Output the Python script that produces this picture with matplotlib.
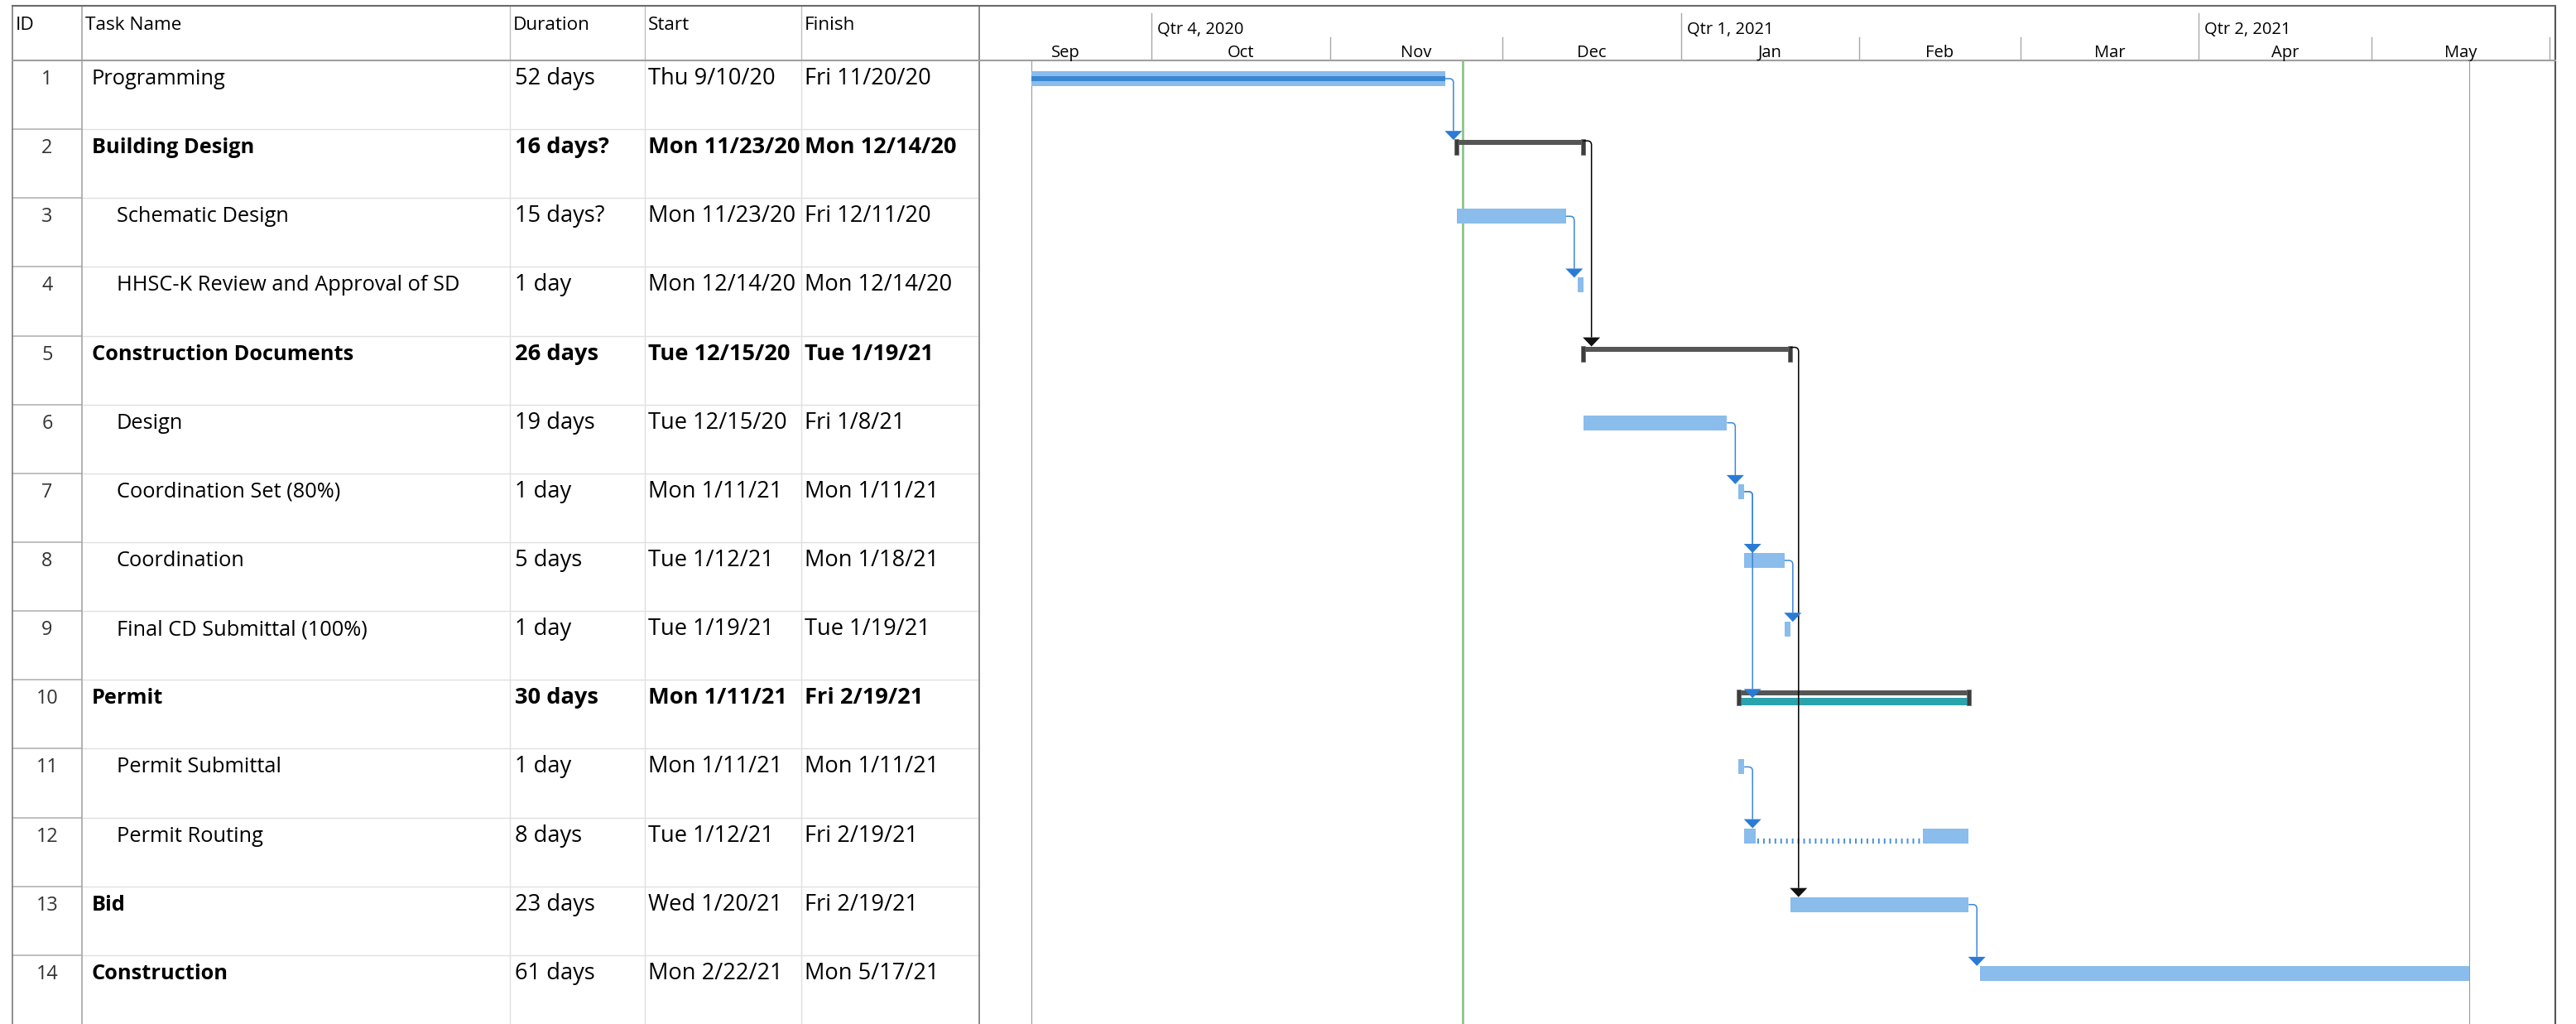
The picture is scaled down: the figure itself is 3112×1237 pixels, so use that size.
import matplotlib
matplotlib.use('Agg')
import matplotlib.pyplot as plt
import matplotlib.dates as mdates
from matplotlib.patches import Rectangle, Polygon, PathPatch
from matplotlib.path import Path
from datetime import datetime

plt.rcParams['font.family'] = ['Open Sans', 'DejaVu Sans']
plt.rcParams['lines.scale_dashes'] = False

# task table
ids = list(range(1, 15))
names = ['Programming', 'Building Design', 'Schematic Design', 'HHSC-K Review and Approval of SD',
         'Construction Documents', 'Design', 'Coordination Set (80%)', 'Coordination',
         'Final CD Submittal (100%)', 'Permit', 'Permit Submittal', 'Permit Routing', 'Bid',
         'Construction']
durations = ['52 days', '16 days?', '15 days?', '1 day', '26 days', '19 days', '1 day', '5 days',
             '1 day', '30 days', '1 day', '8 days', '23 days', '61 days']
starts = ['Thu 9/10/20', 'Mon 11/23/20', 'Mon 11/23/20', 'Mon 12/14/20', 'Tue 12/15/20',
          'Tue 12/15/20', 'Mon 1/11/21', 'Tue 1/12/21', 'Tue 1/19/21', 'Mon 1/11/21',
          'Mon 1/11/21', 'Tue 1/12/21', 'Wed 1/20/21', 'Mon 2/22/21']
finishes = ['Fri 11/20/20', 'Mon 12/14/20', 'Fri 12/11/20', 'Mon 12/14/20', 'Tue 1/19/21',
            'Fri 1/8/21', 'Mon 1/11/21', 'Mon 1/18/21', 'Tue 1/19/21', 'Fri 2/19/21',
            'Mon 1/11/21', 'Fri 2/19/21', 'Fri 2/19/21', 'Mon 5/17/21']
indent = [0, 0, 1, 1, 0, 1, 1, 1, 1, 0, 1, 1, 0, 0]
kinds = ['task', 'summary', 'task', 'task', 'summary', 'task', 'task', 'task', 'task',
         'manual', 'task', 'task', 'task', 'task']
bold_name = [False, True, False, False, True, False, False, False, False, True, False, False,
             True, True]
pct_complete = [100, 0, 0, 0, 0, 0, 0, 0, 0, 0, 0, 0, 0, 0]
# Permit Routing is split into two pieces
splits = {12: [('1/12/21', '1/13/21'), ('2/12/21', '2/19/21')]}
links = [(1, 2), (3, 4), (2, 5), (6, 7), (7, 8), (7, 10), (8, 9), (5, 13), (11, 12), (13, 14)]
status_date = '11/24/20'
view_start, view_end = '9/1/20', '6/2/21'

# layout in pixels
W, H, DPI = 3112, 1237, 100
TOP, HDR = 7, 73
TBL_L, TBL_R, GANTT_R = 15, 1183, 3087
COL_X = [15, 99, 616, 779, 968]
ROW_PX = (H - HDR) / len(ids)

LIGHT_BLUE = '#8abcec'
DARK_BLUE = '#3b86d1'
ARROW_BLUE = '#2b7bd6'


def day(s):
    return mdates.date2num(datetime.strptime(s.split()[-1], '%m/%d/%y'))


bar_start = [day(s) for s in starts]
bar_end = [day(f) + 1 for f in finishes]
x0, x1 = day(view_start), day(view_end)
DAY_PX = (GANTT_R - TBL_R) / (x1 - x0)


def dx(p):
    return p / DAY_PX


def dy(p):
    return p / ROW_PX


fig = plt.figure(figsize=(W / DPI, H / DPI), dpi=DPI)

# ---- table ----
ax_t = fig.add_axes([0, 0, 1, 1])
ax_t.set_xlim(0, W)
ax_t.set_ylim(H, 0)
ax_t.axis('off')

FS = 18.3      # task names
DFS = 19.6     # durations and dates
HFS = 16.2     # column headers
TFS = 14.5     # timescale
for x, lab in zip(COL_X, ['ID', 'Task Name', 'Duration', 'Start', 'Finish']):
    ax_t.text(x + 4, 36, lab, fontsize=HFS, va='baseline', ha='left')

for i in range(len(ids)):
    top = HDR + i * ROW_PX
    base = top + 29
    w = 'bold' if kinds[i] != 'task' else 'normal'
    ax_t.text((COL_X[0] + COL_X[1]) / 2, base, str(ids[i]), fontsize=FS - 1.5, ha='center',
              va='baseline', color='#333333')
    ax_t.text(COL_X[1] + 12 + indent[i] * 30, base, names[i], fontsize=FS, va='baseline',
              fontweight='bold' if bold_name[i] else 'normal')
    ax_t.text(COL_X[2] + 6, base, durations[i], fontsize=DFS, va='baseline', fontweight=w)
    ax_t.text(COL_X[3] + 4, base, starts[i], fontsize=DFS, va='baseline', fontweight=w)
    ax_t.text(COL_X[4] + 4, base, finishes[i], fontsize=DFS, va='baseline', fontweight=w)
    if i > 0:
        ax_t.plot([COL_X[0], COL_X[1]], [top, top], color='#b4b4b4', lw=1.2)
        ax_t.plot([COL_X[1], TBL_R], [top, top], color='#e0e0e0', lw=1.0)

for x in COL_X[2:]:
    ax_t.plot([x, x], [TOP, HDR], color='#bdbdbd', lw=1.0)
    ax_t.plot([x, x], [HDR, H], color='#e0e0e0', lw=1.0)
ax_t.plot([COL_X[1], COL_X[1]], [TOP, H], color='#a6a6a6', lw=1.2)
ax_t.plot([TBL_L, TBL_L], [TOP, H], color='#7a7a7a', lw=1.2)
ax_t.plot([TBL_R, TBL_R], [TOP, H], color='#8a8a8a', lw=1.4)
ax_t.plot([GANTT_R, GANTT_R], [TOP, H], color='#555555', lw=1.5)
ax_t.plot([TBL_L, GANTT_R], [TOP, TOP], color='#6a6a6a', lw=1.5)
ax_t.plot([TBL_L, GANTT_R], [HDR, HDR], color='#a0a0a0', lw=1.5)

# ---- timescale ----
ax_h = fig.add_axes([TBL_R / W, (H - HDR) / H, (GANTT_R - TBL_R) / W, (HDR - TOP) / H])
ax_h.set_xlim(x0, x1)
ax_h.set_ylim(HDR, TOP)
ax_h.axis('off')
ax_h.patch.set_alpha(0)

months = ['9/1/20', '10/1/20', '11/1/20', '12/1/20', '1/1/21', '2/1/21', '3/1/21', '4/1/21',
          '5/1/21', '6/1/21']
for a, b in zip(months[:-1], months[1:]):
    ma, mb = day(a), day(b)
    d = mdates.num2date(ma)
    ax_h.text((ma + mb) / 2, 69, d.strftime('%b'), fontsize=TFS, ha='center', va='baseline')
    if ma > x0:
        if d.month in (1, 4, 7, 10):
            ax_h.plot([ma, ma], [16, HDR], color='#a8a8a8', lw=1.0)
            ax_h.text(ma + dx(7), 41, 'Qtr %d, %d' % ((d.month - 1) // 3 + 1, d.year),
                      fontsize=TFS, ha='left', va='baseline')
        else:
            ax_h.plot([ma, ma], [45, HDR], color='#a8a8a8', lw=1.0)
ax_h.plot([day(months[-1])] * 2, [45, HDR], color='#a8a8a8', lw=1.0)

# ---- gantt ----
ax = fig.add_axes([TBL_R / W, 0, (GANTT_R - TBL_R) / W, (H - HDR) / H])
ax.set_xlim(x0, x1)
ax.set_ylim(len(ids), 0)
ax.axis('off')
ax.patch.set_alpha(0)

ax.axvline(min(bar_start), color='#9a9a9a', lw=0.8, zorder=1)
ax.axvline(max(bar_end), color='#9a9a9a', lw=0.8, zorder=1)
ax.axvline(day(status_date), color='#8dc587', lw=2.0, zorder=1)

for i in range(len(ids)):
    s, e = bar_start[i], bar_end[i]
    if kinds[i] == 'task':
        pieces = splits.get(ids[i])
        if pieces:
            segs = [(day(a), day(b) + 1) for a, b in pieces]
            for a, b in segs:
                ax.add_patch(Rectangle((a, i + dy(13)), b - a, dy(18), fc=LIGHT_BLUE, ec='none',
                                       zorder=2))
            for (a, b), (c, d) in zip(segs[:-1], segs[1:]):
                ax.plot([b + dx(2), c], [i + dy(28)] * 2, color='#4a90d9', lw=4.5,
                        linestyle=(0, (1.4, 3.6)), solid_capstyle='butt', zorder=2)
        else:
            ax.add_patch(Rectangle((s, i + dy(13)), e - s, dy(18), fc=LIGHT_BLUE, ec='none',
                                   zorder=2))
            if pct_complete[i]:
                done = s + (e - s) * pct_complete[i] / 100
                ax.add_patch(Rectangle((s, i + dy(19)), done - s, dy(6), fc=DARK_BLUE,
                                       ec='none', zorder=3))
    else:
        ax.add_patch(Rectangle((s, i + dy(13)), e - s, dy(6), fc='#555555', ec='none', zorder=2))
        if kinds[i] == 'manual':
            ax.add_patch(Rectangle((s, i + dy(22)), e - s, dy(9), fc='#2aa4ac', ec='none',
                                   zorder=2))
        for cx in (s, e):
            ax.add_patch(Rectangle((cx - dx(2.5), i + dy(12)), dx(5), dy(19), fc='#3c3c3c',
                                   ec='#6a6a6a', lw=0.5, zorder=3))

for p, q in links:
    i, j = p - 1, q - 1
    summary_link = kinds[i] != 'task'
    line_c = 'black' if summary_link else '#3a87d8'
    head_c = '#111111' if summary_link else ARROW_BLUE
    xs = bar_end[i]
    ys = i + dy(14 if summary_link else 22)
    xv = xs + dx(10)
    tip = j + dy(22 if kinds[j] == 'manual' else 13)
    ah = dy(11)
    verts = [(xs, ys), (xv - dx(5), ys), (xv, ys), (xv, ys + dy(5)), (xv, tip - ah)]
    codes = [Path.MOVETO, Path.LINETO, Path.CURVE3, Path.CURVE3, Path.LINETO]
    ax.add_patch(PathPatch(Path(verts, codes), fill=False, ec=line_c, lw=1.1, zorder=4))
    ax.add_patch(Polygon([(xv - dx(10.5), tip - ah), (xv + dx(10.5), tip - ah), (xv, tip)],
                         closed=True, fc=head_c, ec='none', zorder=5))

fig.savefig('out.png', dpi=DPI)
